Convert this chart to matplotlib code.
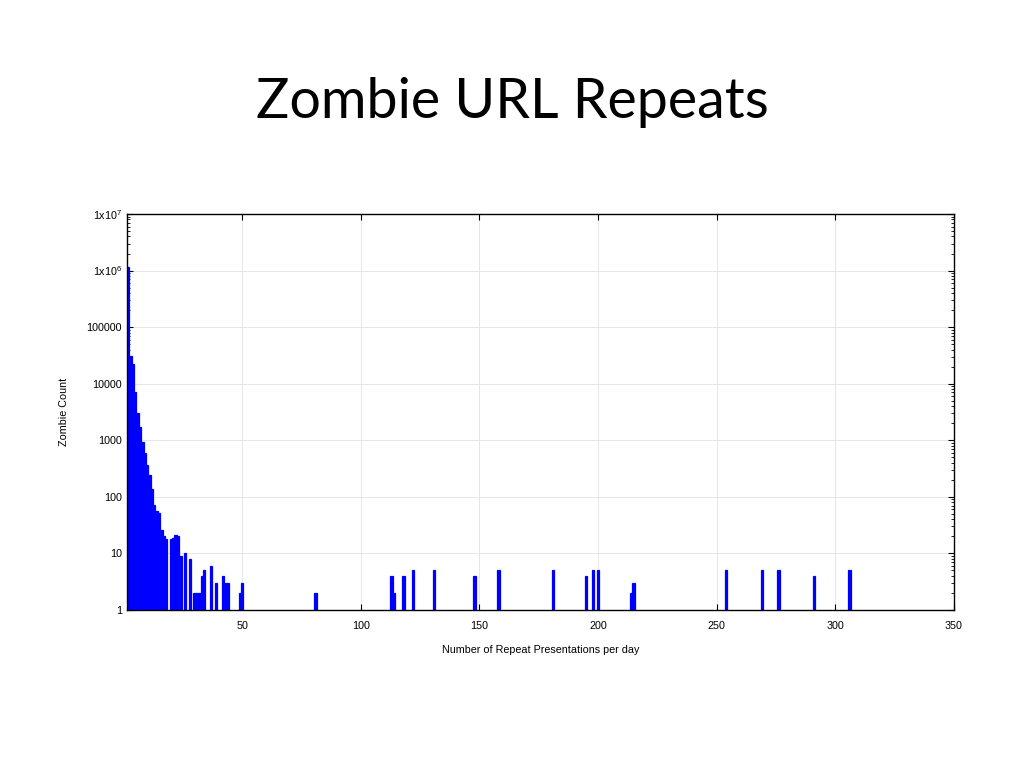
import matplotlib
matplotlib.use("Agg")
import matplotlib.pyplot as plt
from matplotlib.ticker import FixedLocator, LogLocator, NullFormatter

# repeats per day -> zombie count (zero counts left out)
repeats = [2, 3, 4, 5, 6, 7, 8, 9, 10, 11, 12, 13, 14, 15, 16, 17, 18,
           20, 21, 22, 23, 24, 26, 28, 30, 31, 32, 33, 34, 37, 39, 42, 43, 44,
           49, 50, 81, 113, 114, 118, 122, 131, 148, 158, 181, 195, 198, 200,
           214, 215, 254, 269, 276, 291, 306]
counts = [1150000, 31000, 22000, 7000, 3000, 1700, 950, 600, 370, 240, 140,
          73, 57, 52, 26, 20, 18,
          18, 19, 21, 20, 9, 10, 8, 2, 2, 2, 4, 5, 6, 3, 4, 3, 3,
          2, 3, 2, 4, 2, 4, 5, 5, 4, 5, 5, 4, 5, 5,
          2, 3, 5, 5, 5, 4, 5]

y_ticks = [1, 10, 100, 1000, 10000, 100000, 1e6, 1e7]
y_labels = ["1", "10", "100", "1000", "10000", "100000",
            r"1x10$^{6}$", r"1x10$^{7}$"]
x_ticks = [50, 100, 150, 200, 250, 300, 350]

plt.rcParams["font.family"] = ["Liberation Sans", "DejaVu Sans"]
plt.rcParams["mathtext.fontset"] = "custom"
plt.rcParams["mathtext.rm"] = "Liberation Sans"

fig = plt.figure(figsize=(10.24, 7.68), dpi=100)
fig.text(0.5, 0.866, "Zombie URL Repeats", ha="center", va="center",
         fontsize=40, family=["Lato", "DejaVu Sans"])

ax = fig.add_axes([0.124, 0.2057, 0.8076, 0.5157])
ax.set_yscale("log")
# start the boxes below the axis so the tops sit exactly on the counts
ax.bar(repeats, counts, width=1.0, bottom=1e-3, color="#0000ff",
       edgecolor="#0000ff", linewidth=0.9, zorder=2)

ax.set_ylim(1, 1e7)
ax.set_xlim(1.5, 350)

ax.yaxis.set_major_locator(FixedLocator(y_ticks))
ax.set_yticklabels(y_labels)
ax.yaxis.set_minor_locator(LogLocator(base=10, subs=range(2, 10), numticks=20))
ax.yaxis.set_minor_formatter(NullFormatter())
ax.xaxis.set_major_locator(FixedLocator(x_ticks))

ax.grid(True, which="major", color="#e6e6e6", linewidth=0.7, zorder=0)
ax.tick_params(which="both", direction="in", top=True, right=True,
               labelsize=7.75)
ax.tick_params(axis="x", pad=8)
ax.tick_params(axis="y", pad=3.5)
ax.tick_params(which="major", length=4, width=0.8)
ax.tick_params(which="minor", length=2.5, width=0.6)
for s in ax.spines.values():
    s.set_linewidth(1.0)
    s.set_zorder(3)

ax.set_xlabel("Number of Repeat Presentations per day", fontsize=7.75, labelpad=10)
ax.set_ylabel("Zombie Count", fontsize=7.75, labelpad=13)

fig.savefig("out.png", dpi=100)
